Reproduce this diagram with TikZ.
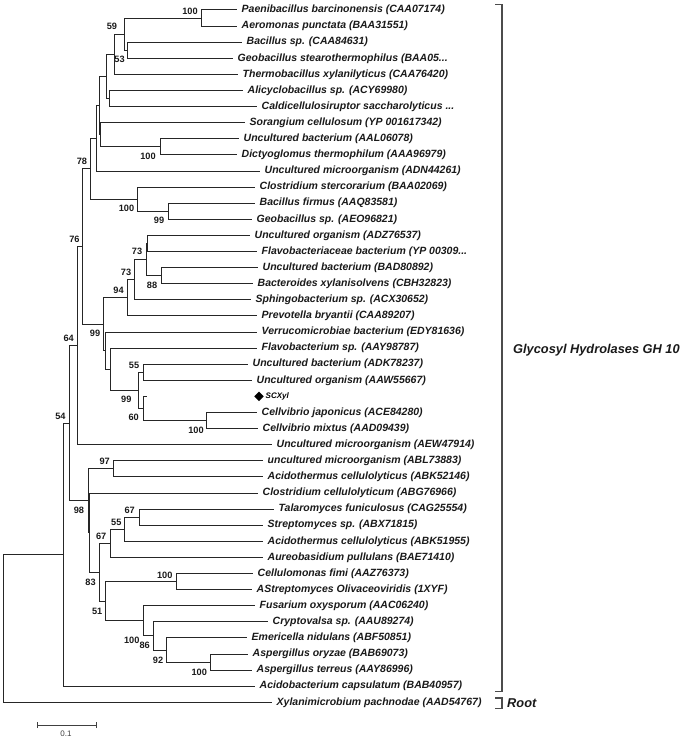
\documentclass[tikz,border=0pt]{standalone}
\usepackage{fontspec}
\newfontfamily\arial{Liberation Sans}
\usetikzlibrary{shapes.geometric}
\begin{document}
\begin{tikzpicture}[x=1pt,y=-1pt,
  br/.style={draw=black!85,line width=1pt},
  leaf/.style={anchor=west,inner xsep=4.5pt,inner ysep=0pt,font=\arial\bfseries\itshape\fontsize{10.5}{12}\selectfont,text=black!90},
  bs/.style={inner sep=0pt,font=\arial\bfseries\fontsize{9.2}{10}\selectfont,text=black!90},
  big/.style={inner sep=0pt,font=\arial\bfseries\itshape\fontsize{12.8}{14}\selectfont,text=black!90},
  brk/.style={draw=black!70,line width=1.2pt},
  scx/.style={anchor=west,inner sep=0pt,font=\arial\bfseries\itshape\fontsize{8}{9}\selectfont}]
\useasboundingbox (0,0) rectangle (683,741);
% leaves
\node[leaf] (l1) at (237,10.0) {Paenibacillus barcinonensis (CAA07174)};
\node[leaf] (l2) at (237,26.1) {Aeromonas punctata (BAA31551)};
\node[leaf] (l3) at (242,42.2) {Bacillus sp. (CAA84631)};
\node[leaf] (l4) at (233,58.3) {Geobacillus stearothermophilus (BAA05...};
\node[leaf] (l5) at (238,74.4) {Thermobacillus xylanilyticus (CAA76420)};
\node[leaf] (l6) at (243,90.5) {Alicyclobacillus sp. (ACY69980)};
\node[leaf] (l7) at (257,106.6) {Caldicellulosiruptor saccharolyticus ...};
\node[leaf] (l8) at (245,122.7) {Sorangium cellulosum (YP 001617342)};
\node[leaf] (l9) at (239,138.8) {Uncultured bacterium (AAL06078)};
\node[leaf] (l10) at (237,154.9) {Dictyoglomus thermophilum (AAA96979)};
\node[leaf] (l11) at (260,171.0) {Uncultured microorganism (ADN44261)};
\node[leaf] (l12) at (255,187.1) {Clostridium stercorarium (BAA02069)};
\node[leaf] (l13) at (255,203.2) {Bacillus firmus (AAQ83581)};
\node[leaf] (l14) at (252,219.3) {Geobacillus sp. (AEO96821)};
\node[leaf] (l15) at (250,235.4) {Uncultured organism (ADZ76537)};
\node[leaf] (l16) at (257,251.5) {Flavobacteriaceae bacterium (YP 00309...};
\node[leaf] (l17) at (258,267.6) {Uncultured bacterium (BAD80892)};
\node[leaf] (l18) at (253,283.7) {Bacteroides xylanisolvens (CBH32823)};
\node[leaf] (l19) at (251,299.8) {Sphingobacterium sp. (ACX30652)};
\node[leaf] (l20) at (257,315.9) {Prevotella bryantii (CAA89207)};
\node[leaf] (l21) at (257,332.0) {Verrucomicrobiae bacterium (EDY81636)};
\node[leaf] (l22) at (257,348.1) {Flavobacterium sp. (AAY98787)};
\node[leaf] (l23) at (248,364.2) {Uncultured bacterium (ADK78237)};
\node[leaf] (l24) at (252,380.3) {Uncultured organism (AAW55667)};
\node[diamond,fill=black,inner sep=0pt,minimum width=9.5pt,minimum height=9.5pt] (d25) at (259,396.4) {};
\node[scx] (l25) at (265.5,396.4) {SCXyl};
\node[leaf] (l26) at (257,412.5) {Cellvibrio japonicus (ACE84280)};
\node[leaf] (l27) at (258,428.6) {Cellvibrio mixtus (AAD09439)};
\node[leaf] (l28) at (272,444.7) {Uncultured microorganism (AEW47914)};
\node[leaf] (l29) at (263,460.8) {uncultured microorganism (ABL73883)};
\node[leaf] (l30) at (263,476.9) {Acidothermus cellulolyticus (ABK52146)};
\node[leaf] (l31) at (258,493.0) {Clostridium cellulolyticum (ABG76966)};
\node[leaf] (l32) at (274,509.1) {Talaromyces funiculosus (CAG25554)};
\node[leaf] (l33) at (263,525.2) {Streptomyces sp. (ABX71815)};
\node[leaf] (l34) at (263,541.3) {Acidothermus cellulolyticus (ABK51955)};
\node[leaf] (l35) at (263,557.4) {Aureobasidium pullulans (BAE71410)};
\node[leaf] (l36) at (253,573.5) {Cellulomonas fimi (AAZ76373)};
\node[leaf] (l37) at (252,589.6) {AStreptomyces Olivaceoviridis (1XYF)};
\node[leaf] (l38) at (255,605.7) {Fusarium oxysporum (AAC06240)};
\node[leaf] (l39) at (268,621.8) {Cryptovalsa sp. (AAU89274)};
\node[leaf] (l40) at (247,637.9) {Emericella nidulans (ABF50851)};
\node[leaf] (l41) at (248,654.0) {Aspergillus oryzae (BAB69073)};
\node[leaf] (l42) at (252,670.1) {Aspergillus terreus (AAY86996)};
\node[leaf] (l43) at (255,686.2) {Acidobacterium capsulatum (BAB40957)};
\node[leaf] (l44) at (272,702.3) {Xylanimicrobium pachnodae (AAD54767)};
% internal nodes
\coordinate (A) at (201.7,18.05);
\coordinate (B) at (127.3,50.25);
\coordinate (C) at (124,34.15);
\coordinate (D) at (114.3,54.3);
\coordinate (E) at (109.3,98.55);
\coordinate (F) at (106,76.4);
\coordinate (K1) at (160,146.85);
\coordinate (G2) at (100.7,134.8);
\coordinate (G1) at (99.3,105.6);
\coordinate (H) at (96,138.3);
\coordinate (BF) at (168.3,211.25);
\coordinate (CS) at (137.7,199.2);
\coordinate (I) at (90.3,168.75);
\coordinate (Q1) at (147.7,243.45);
\coordinate (Q3) at (161,275.65);
\coordinate (Q2) at (146,259.55);
\coordinate (Q4) at (134.3,279.7);
\coordinate (Q5) at (127.7,297.8);
\coordinate (N55) at (143.3,372.25);
\coordinate (CV) at (206.7,420.55);
\coordinate (N60) at (143.3,408.5);
\coordinate (R2) at (138.3,390.4);
\coordinate (R1) at (110,369.25);
\coordinate (Q7) at (105,350.6);
\coordinate (Q6) at (103.3,324.2);
\coordinate (J) at (82.7,246.5);
\coordinate (L) at (77.3,345.6);
\coordinate (N97) at (113.3,468.85);
\coordinate (T67) at (139,517.15);
\coordinate (N55b) at (124.3,529.2);
\coordinate (N67) at (110,543.3);
\coordinate (CF) at (176,581.55);
\coordinate (AS) at (210,662.05);
\coordinate (N92) at (166.7,650);
\coordinate (N86) at (153.3,635.9);
\coordinate (N100f) at (143.3,620.8);
\coordinate (N51) at (105.7,601.2);
\coordinate (P) at (99.3,572.25);
\coordinate (N2) at (89.3,532.6);
\coordinate (N1) at (88.3,500.7);
\coordinate (M) at (69.3,423.2);
\coordinate (O) at (63.7,554.7);
\coordinate (Rt) at (3.3,628.5);
\coordinate (S60) at (146.5,396.4);
% branches
\draw[br] (A) |- (l1.west); \draw[br] (A) |- (l2.west);
\draw[br] (B) |- (l3.west); \draw[br] (B) |- (l4.west);
\draw[br] (C) |- (A); \draw[br] (C) |- (B);
\draw[br] (D) |- (C); \draw[br] (D) |- (l5.west);
\draw[br] (E) |- (l6.west); \draw[br] (E) |- (l7.west);
\draw[br] (F) |- (D); \draw[br] (F) |- (E);
\draw[br] (K1) |- (l9.west); \draw[br] (K1) |- (l10.west);
\draw[br] (G2) |- (l8.west); \draw[br] (G2) |- (K1);
\draw[br] (G1) |- (F); \draw[br] (G1) |- (G2);
\draw[br] (H) |- (G1); \draw[br] (H) |- (l11.west);
\draw[br] (BF) |- (l13.west); \draw[br] (BF) |- (l14.west);
\draw[br] (CS) |- (l12.west); \draw[br] (CS) |- (BF);
\draw[br] (I) |- (H); \draw[br] (I) |- (CS);
\draw[br] (Q1) |- (l15.west); \draw[br] (Q1) |- (l16.west);
\draw[br] (Q3) |- (l17.west); \draw[br] (Q3) |- (l18.west);
\draw[br] (Q2) |- (Q1); \draw[br] (Q2) |- (Q3);
\draw[br] (Q4) |- (Q2); \draw[br] (Q4) |- (l19.west);
\draw[br] (Q5) |- (Q4); \draw[br] (Q5) |- (l20.west);
\draw[br] (N55) |- (l23.west); \draw[br] (N55) |- (l24.west);
\draw[br] (CV) |- (l26.west); \draw[br] (CV) |- (l27.west);
\draw[br] (N60) |- (S60); \draw[br] (N60) |- (CV);
\draw[br] (R2) |- (N55); \draw[br] (R2) |- (N60);
\draw[br] (R1) |- (l22.west); \draw[br] (R1) |- (R2);
\draw[br] (Q7) |- (l21.west); \draw[br] (Q7) |- (R1);
\draw[br] (Q6) |- (Q5); \draw[br] (Q6) |- (Q7);
\draw[br] (J) |- (I); \draw[br] (J) |- (Q6);
\draw[br] (L) |- (J); \draw[br] (L) |- (l28.west);
\draw[br] (N97) |- (l29.west); \draw[br] (N97) |- (l30.west);
\draw[br] (T67) |- (l32.west); \draw[br] (T67) |- (l33.west);
\draw[br] (N55b) |- (T67); \draw[br] (N55b) |- (l34.west);
\draw[br] (N67) |- (N55b); \draw[br] (N67) |- (l35.west);
\draw[br] (CF) |- (l36.west); \draw[br] (CF) |- (l37.west);
\draw[br] (AS) |- (l41.west); \draw[br] (AS) |- (l42.west);
\draw[br] (N92) |- (l40.west); \draw[br] (N92) |- (AS);
\draw[br] (N86) |- (l39.west); \draw[br] (N86) |- (N92);
\draw[br] (N100f) |- (l38.west); \draw[br] (N100f) |- (N86);
\draw[br] (N51) |- (CF); \draw[br] (N51) |- (N100f);
\draw[br] (P) |- (N67); \draw[br] (P) |- (N51);
\draw[br] (N2) |- (l31.west); \draw[br] (N2) |- (P);
\draw[br] (N1) |- (N97); \draw[br] (N1) |- (N2);
\draw[br] (M) |- (L); \draw[br] (M) |- (N1);
\draw[br] (O) |- (M); \draw[br] (O) |- (l43.west);
\draw[br] (Rt) |- (O); \draw[br] (Rt) |- (l44.west);
% bootstrap values
\node[bs] (bA) at (190,11) {100};
\node[bs] (bC) at (112,26.7) {59};
\node[bs] (bB) at (119.5,59.3) {53};
\node[bs] (bK1) at (148,156) {100};
\node[bs] (bI) at (82,161.7) {78};
\node[bs] (bCS) at (126.5,208.3) {100};
\node[bs] (bBF) at (159,220) {99};
\node[bs] (bJ) at (74.5,239.3) {76};
\node[bs] (bQ2) at (137,251.7) {73};
\node[bs] (bQ3) at (152,285) {88};
\node[bs] (bQ4) at (126,272.3) {73};
\node[bs] (bQ5) at (118.5,290) {94};
\node[bs] (bQ6) at (95,333.3) {99};
\node[bs] (bL) at (68.7,338.3) {64};
\node[bs] (bN55) at (134,365) {55};
\node[bs] (bR2) at (126.3,399.3) {99};
\node[bs] (bN60) at (133.7,417.3) {60};
\node[bs] (bCV) at (196,430) {100};
\node[bs] (bM) at (60.5,416.7) {54};
\node[bs] (bN97) at (104.7,461.7) {97};
\node[bs] (bN1) at (79,510.7) {98};
\node[bs] (bT67) at (129.7,510.7) {67};
\node[bs] (bN55b) at (116.3,522.3) {55};
\node[bs] (bN67) at (101.2,536.7) {67};
\node[bs] (bP) at (90.5,582.7) {83};
\node[bs] (bCF) at (164.7,575) {100};
\node[bs] (bN51) at (97.2,611.7) {51};
\node[bs] (bN100f) at (131.7,640) {100};
\node[bs] (bN86) at (144.7,645) {86};
\node[bs] (bN92) at (158,660) {92};
\node[bs] (bAS) at (199.2,672.7) {100};
% brackets
\coordinate (gt0) at (495,4.5); \coordinate (gt1) at (502,4.5);
\coordinate (gb1) at (502,691.7); \coordinate (gb0) at (495,691.7);
\draw[brk] (gt0) -- (gt1) -- (gb1) -- (gb0);
\node[big,anchor=west] (gh) at (513,350) {Glycosyl Hydrolases GH 10};
\coordinate (rt0) at (495,698); \coordinate (rt1) at (502,698);
\coordinate (rb1) at (502,708.3); \coordinate (rb0) at (495,708.3);
\draw[brk] (rt0) -- (rt1) -- (rb1) -- (rb0);
\node[big,anchor=west] (rootlab) at (507,703) {Root};
% scale bar
\coordinate (sb1) at (37,725); \coordinate (sb2) at (96,725);
\draw[draw=black!75,line width=1pt] (sb1) -- (sb2);
\draw[draw=black!75,line width=1pt] ([yshift=-3pt]sb1) -- ([yshift=3pt]sb1);
\draw[draw=black!75,line width=1pt] ([yshift=-3pt]sb2) -- ([yshift=3pt]sb2);
\node[inner sep=0pt,font=\arial\fontsize{8}{9}\selectfont,text=black!75] (sblab) at (66,734) {0.1};
\end{tikzpicture}
\end{document}
